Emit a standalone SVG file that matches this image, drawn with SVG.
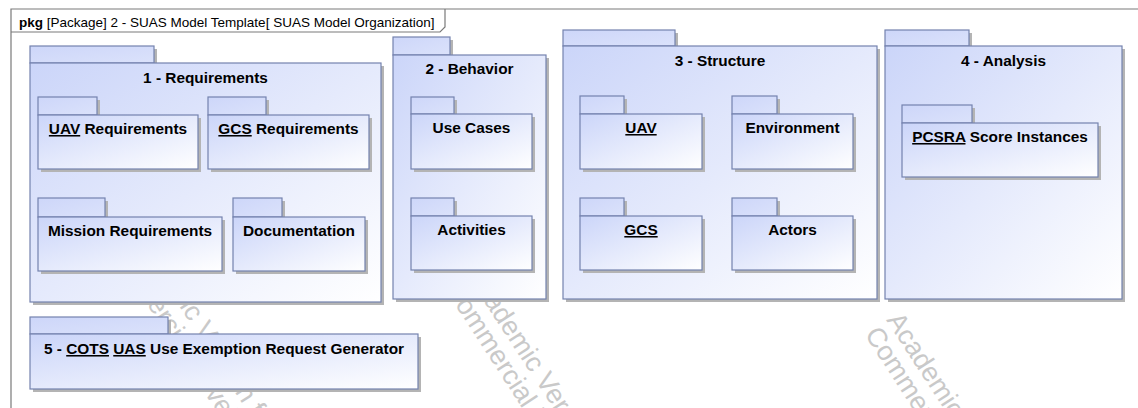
<svg xmlns="http://www.w3.org/2000/svg" width="1138" height="408" viewBox="0 0 1138 408">
<defs>
<linearGradient id="gb" x1="0" y1="0" x2="1" y2="1">
<stop offset="0" stop-color="#cbd5f9"/>
<stop offset="1" stop-color="#ffffff"/>
</linearGradient>
<linearGradient id="gt" x1="0" y1="0" x2="1" y2="1">
<stop offset="0" stop-color="#cdd6f9"/>
<stop offset="1" stop-color="#dbe2fb"/>
</linearGradient>
</defs>
<style>
.sh{fill:#b4b4b4}
.tab{fill:url(#gt);stroke:#7482ae;stroke-width:1.2}
.body{fill:url(#gb);stroke:#7482ae;stroke-width:1.2}
.lbl{font-family:"Liberation Sans",Arial,sans-serif;font-weight:bold;font-size:15.4px;fill:#000;text-anchor:middle}
.u{text-decoration:underline}
.wm{font-family:"Liberation Sans",Arial,sans-serif;font-size:27px;fill:#c9c9c9}
.frame{fill:none;stroke:#7a7a7a;stroke-width:1.2}
</style>
<rect x="0" y="0" width="1138" height="408" fill="#ffffff"/>
<g id="watermark">
<g transform="translate(125,223) rotate(57)"><text class="wm" x="0" y="0">Academic Version for Teaching Only</text><text class="wm" x="0" y="26">Commercial Development is Strictly Prohibited</text></g>
<g transform="translate(466,274) rotate(57)"><text class="wm" x="0" y="0">Academic Version for Teaching Only</text><text class="wm" x="0" y="26">Commercial Development is Strictly Prohibited</text></g>
<g transform="translate(886,320) rotate(57)"><text class="wm" x="0" y="0">Academic Version for Teaching Only</text><text class="wm" x="0" y="26">Commercial Development is Strictly Prohibited</text></g>
</g>
<g id="frame">
<path class="frame" d="M11,408 V9 H1138"/>
<path d="M11,32 H440 L445,27 V9" fill="none" stroke="#7a7a7a" stroke-width="1.2"/>
<text x="19" y="27" font-family="'Liberation Sans',Arial,sans-serif" font-size="13.5px" fill="#000"><tspan font-weight="bold">pkg</tspan> [Package] 2 - SUAS Model Template[ SUAS Model Organization]</text>
</g>
<g id="pkg1">
<rect class="sh" x="33" y="49" width="124" height="17"/><rect class="sh" x="33" y="66" width="351" height="239"/>
<rect class="tab" x="30" y="46" width="124" height="17"/><rect class="body" x="30" y="63" width="351" height="239"/>
<text class="lbl" x="205.5" y="83">1 - Requirements</text>
</g>
<g id="pkg1-uav">
<rect class="sh" x="41" y="100" width="59" height="18"/><rect class="sh" x="41" y="118" width="160" height="54"/>
<rect class="tab" x="38" y="97" width="59" height="18"/><rect class="body" x="38" y="115" width="160" height="54"/>
<text class="lbl" x="118" y="134"><tspan class="u">UAV</tspan> Requirements</text>
</g>
<g id="pkg1-gcs">
<rect class="sh" x="211" y="100" width="58" height="18"/><rect class="sh" x="211" y="118" width="161" height="54"/>
<rect class="tab" x="208" y="97" width="58" height="18"/><rect class="body" x="208" y="115" width="161" height="54"/>
<text class="lbl" x="288.5" y="134"><tspan class="u">GCS</tspan> Requirements</text>
</g>
<g id="pkg1-mission">
<rect class="sh" x="41" y="201" width="67" height="19"/><rect class="sh" x="41" y="220" width="184" height="54"/>
<rect class="tab" x="38" y="198" width="67" height="19"/><rect class="body" x="38" y="217" width="184" height="54"/>
<text class="lbl" x="130" y="236">Mission Requirements</text>
</g>
<g id="pkg1-doc">
<rect class="sh" x="236" y="201" width="49" height="19"/><rect class="sh" x="236" y="220" width="132" height="54"/>
<rect class="tab" x="233" y="198" width="49" height="19"/><rect class="body" x="233" y="217" width="132" height="54"/>
<text class="lbl" x="299" y="236">Documentation</text>
</g>
<g id="pkg2">
<rect class="sh" x="396" y="40" width="57" height="18"/><rect class="sh" x="396" y="58" width="153" height="244"/>
<rect class="tab" x="393" y="37" width="57" height="18"/><rect class="body" x="393" y="55" width="153" height="244"/>
<text class="lbl" x="469.5" y="74">2 - Behavior</text>
</g>
<g id="pkg2-usecases">
<rect class="sh" x="414" y="100" width="43" height="17"/><rect class="sh" x="414" y="117" width="121" height="55"/>
<rect class="tab" x="411" y="97" width="43" height="17"/><rect class="body" x="411" y="114" width="121" height="55"/>
<text class="lbl" x="471.5" y="133">Use Cases</text>
</g>
<g id="pkg2-activities">
<rect class="sh" x="414" y="201" width="43" height="18"/><rect class="sh" x="414" y="219" width="121" height="54"/>
<rect class="tab" x="411" y="198" width="43" height="18"/><rect class="body" x="411" y="216" width="121" height="54"/>
<text class="lbl" x="471.5" y="235">Activities</text>
</g>
<g id="pkg3">
<rect class="sh" x="566" y="33" width="112" height="16"/><rect class="sh" x="566" y="49" width="314" height="253"/>
<rect class="tab" x="563" y="30" width="112" height="16"/><rect class="body" x="563" y="46" width="314" height="253"/>
<text class="lbl" x="720" y="66">3 - Structure</text>
</g>
<g id="pkg3-uav">
<rect class="sh" x="583" y="99" width="44" height="18"/><rect class="sh" x="583" y="117" width="122" height="55"/>
<rect class="tab" x="580" y="96" width="44" height="18"/><rect class="body" x="580" y="114" width="122" height="55"/>
<text class="lbl" x="641" y="133"><tspan class="u">UAV</tspan></text>
</g>
<g id="pkg3-env">
<rect class="sh" x="735" y="99" width="45" height="18"/><rect class="sh" x="735" y="117" width="121" height="55"/>
<rect class="tab" x="732" y="96" width="45" height="18"/><rect class="body" x="732" y="114" width="121" height="55"/>
<text class="lbl" x="792.5" y="133">Environment</text>
</g>
<g id="pkg3-gcs">
<rect class="sh" x="583" y="201" width="44" height="18"/><rect class="sh" x="583" y="219" width="122" height="54"/>
<rect class="tab" x="580" y="198" width="44" height="18"/><rect class="body" x="580" y="216" width="122" height="54"/>
<text class="lbl" x="641" y="235"><tspan class="u">GCS</tspan></text>
</g>
<g id="pkg3-actors">
<rect class="sh" x="735" y="201" width="45" height="18"/><rect class="sh" x="735" y="219" width="121" height="54"/>
<rect class="tab" x="732" y="198" width="45" height="18"/><rect class="body" x="732" y="216" width="121" height="54"/>
<text class="lbl" x="792.5" y="235">Actors</text>
</g>
<g id="pkg4">
<rect class="sh" x="888" y="33" width="84" height="16"/><rect class="sh" x="888" y="49" width="237" height="253"/>
<rect class="tab" x="885" y="30" width="84" height="16"/><rect class="body" x="885" y="46" width="237" height="253"/>
<text class="lbl" x="1003.5" y="66">4 - Analysis</text>
</g>
<g id="pkg4-pcsra">
<rect class="sh" x="905" y="108" width="70" height="18"/><rect class="sh" x="905" y="126" width="196" height="54"/>
<rect class="tab" x="902" y="105" width="70" height="18"/><rect class="body" x="902" y="123" width="196" height="54"/>
<text class="lbl" x="1000" y="142"><tspan class="u">PCSRA</tspan> Score Instances</text>
</g>
<g id="pkg5">
<rect class="sh" x="33" y="320" width="138" height="17"/><rect class="sh" x="33" y="337" width="388" height="55"/>
<rect class="tab" x="30" y="317" width="138" height="17"/><rect class="body" x="30" y="334" width="388" height="55"/>
<text class="lbl" x="224" y="354">5 - <tspan class="u">COTS</tspan> <tspan class="u">UAS</tspan> Use Exemption Request Generator</text>
</g>
<g id="connectors"></g>
</svg>
